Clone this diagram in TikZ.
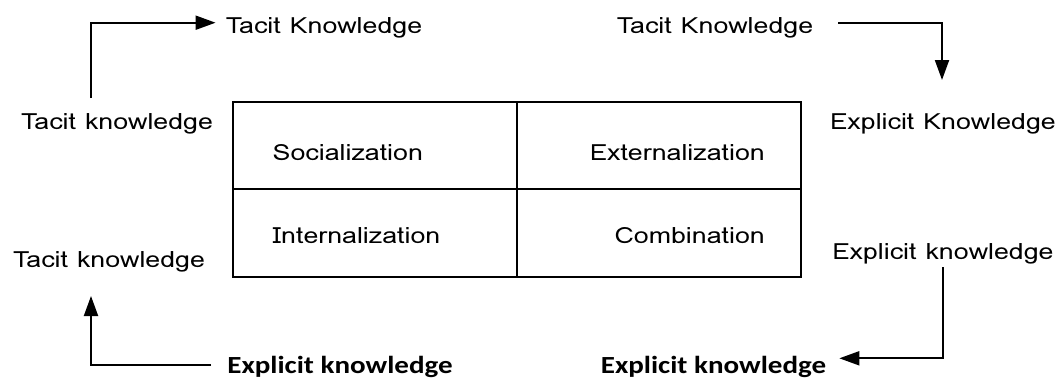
\documentclass[tikz,border=0pt]{standalone}
\usepackage{fontspec}
\setmainfont{Loma}[FakeStretch=1.2]
\newfontfamily\calfont{Carlito}[FakeStretch=1.18]
\usetikzlibrary{arrows.meta}
\begin{document}
\begin{tikzpicture}[x=1pt,y=-1pt,
  lbl/.style={font=\fontsize{22.3}{26}\selectfont, inner sep=0pt, anchor=base},
  blbl/.style={font=\calfont\fontsize{24.6}{28}\selectfont\bfseries, inner sep=0pt, anchor=base},
  conn/.style={line width=2pt, -{Triangle[length=20pt,width=14pt]}},
  cell/.style={draw, line width=2pt, minimum width=284pt, minimum height=87.5pt, inner sep=0pt}]
\useasboundingbox (0,0) rectangle (1064,378);
% grid
\node[cell] (c11) at (374.5,145.5) {};
\node[cell] (c12) at (658.5,145.5) {};
\node[cell] (c21) at (374.5,233) {};
\node[cell] (c22) at (658.5,233) {};
\node[lbl, anchor=base west] (soc) at (272.5,160) {Socialization};
\node[lbl, anchor=base east] (ext) at (765,160) {Externalization};
\node[lbl, anchor=base west] (int) at (272.5,243) {Internalization};
\node[lbl, anchor=base east] (com) at (765,243) {Combination};
% outer labels
\node[lbl] (tk1) at (324,33) {Tacit Knowledge};
\node[lbl] (tk2) at (715,33) {Tacit Knowledge};
\node[lbl] (tl) at (117,129) {Tacit knowledge};
\node[lbl] (ek1) at (943,129) {Explicit Knowledge};
\node[lbl] (tb) at (109,267) {Tacit knowledge};
\node[lbl] (ek2) at (943,259) {Explicit knowledge};
\node[blbl] (eb1) at (340,373) {Explicit knowledge};
\node[blbl] (eb2) at (713.5,373) {Explicit knowledge};
% connectors
\draw[conn] ([shift={(-26pt,31pt)}]tl.base) |- ([shift={(-10pt,10.3pt)}]tk1.base west);
\draw[conn] ([shift={(25pt,10.3pt)}]tk2.base east) -| ([shift={(-1pt,49pt)}]ek1.base);
\draw[conn] ([shift={(0pt,-8pt)}]ek2.base) |- ([shift={(13pt,14.7pt)}]eb2.base east);
\draw[conn] ([shift={(-16pt,8pt)}]eb1.base west) -| ([shift={(-18pt,-29pt)}]tb.base);
\end{tikzpicture}
\end{document}
